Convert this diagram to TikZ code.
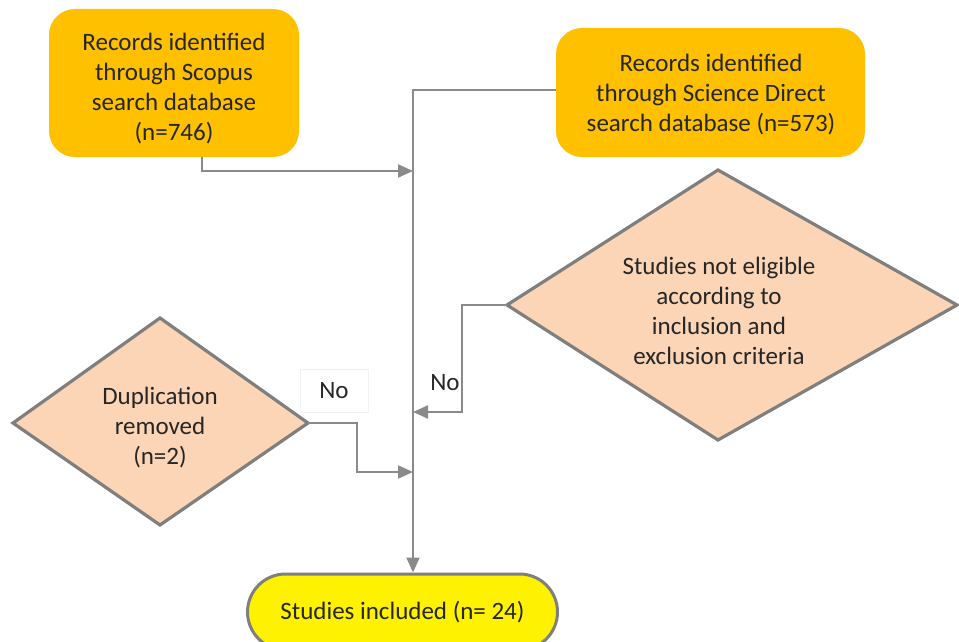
\documentclass[tikz,border=0pt]{standalone}
\usepackage{fontspec}
\setmainfont{Carlito}
\usetikzlibrary{arrows.meta,calc}
\definecolor{boxorange}{HTML}{FFC000}
\definecolor{peach}{HTML}{FBD5B5}
\definecolor{edgegray}{HTML}{7F7F7F}
\definecolor{linegray}{HTML}{8A8A8A}
\definecolor{txt}{HTML}{262626}
\begin{document}
\begin{tikzpicture}[x=1pt,y=-1pt,
  every node/.style={font=\fontsize{25}{30}\selectfont, text=txt, align=center, inner sep=0pt},
  srcbox/.style={rectangle, rounded corners=26pt, fill=boxorange},
  decision/.style={draw=edgegray, line width=3.2pt, fill=peach, line join=miter},
  endbox/.style={rectangle, rounded corners=38pt, draw=edgegray, line width=3pt, fill=yellow, minimum width=310pt, minimum height=76pt},
  conn/.style={draw=linegray, line width=2pt},
  arr/.style={conn, -{Triangle[length=15pt,width=13pt]}},
  nolabel/.style={font=\fontsize{25}{30}\selectfont}
]
\useasboundingbox (0,0) rectangle (959,642);
\fill[white] (0,0) rectangle (959,642);

% source boxes
\node[srcbox, minimum width=250pt, minimum height=148pt] (sc) at (174,83) {};
\node (sctext) at (174,88.5)
  {Records identified\\through Scopus\\search database\\(n=746)};
\node[srcbox, minimum width=309pt, minimum height=129pt] (sd) at (710.5,92.5) {};
\node (sdtext) at (711,95)
  {Records identified\\through Science Direct\\search database (n=573)};

% right decision diamond
\coordinate (rt) at (718,170);
\coordinate (rr) at (957,305);
\coordinate (rb) at (718,440);
\coordinate (rl) at (507,305);
\path[decision] (rt) -- (rr) -- (rb) -- (rl) -- cycle;
\node (rtext) at (719,311) {Studies not eligible\\according to\\inclusion and\\exclusion criteria};

% left decision diamond
\coordinate (lt) at (160,318);
\coordinate (lr) at (308,423);
\coordinate (lb) at (160,525);
\coordinate (ll) at (13,423);
\path[decision] (lt) -- (lr) -- (lb) -- (ll) -- cycle;
\node (ltext) at (160,428) {Duplication\\removed\\(n=2)};

% end capsule
\node[endbox] (inc) at (402.5,612) {Studies included (n= 24)};

% junction coordinates on main line
\coordinate (top) at (413,90);
\coordinate (j1) at (413,171);
\coordinate (j2) at (413,412);
\coordinate (j3) at (413,472);
\coordinate (scout) at (202,157);

% connectors
\draw[arr] (sd.west |- top) -- (top) -- (inc.north -| top);
\draw[arr] (scout) -- (202,171) -- (j1);
\draw[arr] (rl) -- (462,305) -- (462,412) -- (j2);
\draw[arr] (lr) -- (357,423) -- (357,472) -- (j3);

% labels
\node[nolabel, fill=white, draw=black!5, line width=0.6pt, minimum width=68pt, minimum height=43pt] (no1) at (334,391) {No};
\node[nolabel] (no2) at (445,383) {No};
\end{tikzpicture}
\end{document}
